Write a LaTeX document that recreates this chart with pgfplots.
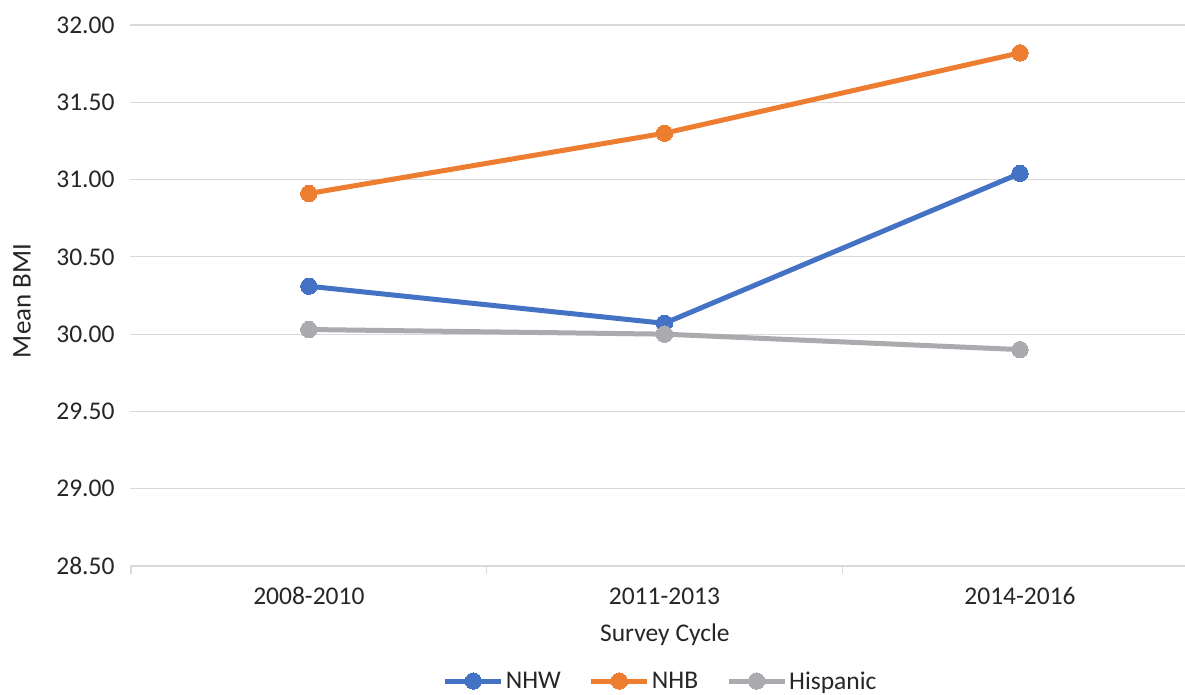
\documentclass[border=0pt]{standalone}
\usepackage{pgfplots}
\pgfplotsset{compat=1.18}
\usepackage{fontspec}
\setmainfont{Carlito}
\definecolor{cblue}{RGB}{68,114,196}
\definecolor{corange}{RGB}{237,125,49}
\definecolor{cgray}{RGB}{170,170,175}
\definecolor{gridc}{RGB}{217,217,217}
\definecolor{txt}{RGB}{38,38,38}
\begin{document}
\begin{tikzpicture}
\useasboundingbox (-130pt,-128pt) rectangle (1055pt,566pt);
\begin{axis}[
  at={(0pt,0pt)}, anchor=south west,
  scale only axis, width=1055pt, height=541pt,
  xmin=-0.503, xmax=2.464, ymin=28.5, ymax=32,
  ytick={28.5,29,29.5,30,30.5,31,31.5,32},
  xtick={0,1,2}, xticklabels={2008-2010,2011-2013,2014-2016},
  extra x ticks={-0.5,0.5,1.5},
  extra x tick labels={},
  extra x tick style={major tick length=8pt, tick align=outside, tick pos=bottom, xmajorgrids=false, major tick style={gridc, line width=1.2pt}},
  major tick length=0pt,
  ymajorgrids, grid style={gridc, line width=1.2pt},
  axis line style={draw=none},
  /pgf/number format/assume math mode=true,
  yticklabel={\pgfmathprintnumber[fixed,fixed zerofill,precision=2]{\tick}},
  tick label style={font=\fontsize{25.5}{30}\selectfont, text=txt},
  yticklabel style={xshift=-12pt},
  xticklabel style={yshift=-18pt},
  xlabel={Survey Cycle}, ylabel={Mean BMI},
  label style={font=\fontsize{25.5}{30}\selectfont, text=txt},
  xlabel style={at={(axis description cs:0.507,-0.1275)}, anchor=center},
  ylabel style={at={(axis description cs:-0.1024,0.49)}, rotate=0, anchor=center, font=\fontsize{27}{32}\selectfont},
  legend columns=3,
  legend style={at={(axis description cs:0.503,-0.2126)}, anchor=center, draw=none, font=\fontsize{25.5}{30}\selectfont, text=txt, inner sep=0pt,
    /tikz/every even column/.append style={column sep=26pt}},
  legend image code/.code={\draw[#1, mark repeat=2, mark phase=2] plot coordinates {(0pt,0pt)(28pt,0pt)(56pt,0pt)};},
  every axis plot/.append style={line width=5pt, mark=*, mark size=8.2pt, mark options={solid}},
  clip=false,
]
\addplot[cblue, mark options={fill=cblue, draw=cblue, line width=0pt}] coordinates {(0,30.31) (1,30.07) (2,31.04)};
\addplot[corange, mark options={fill=corange, draw=corange, line width=0pt}] coordinates {(0,30.91) (1,31.30) (2,31.82)};
\addplot[cgray, mark options={fill=cgray, draw=cgray, line width=0pt}] coordinates {(0,30.03) (1,30.00) (2,29.90)};
\legend{NHW,NHB,Hispanic}
\end{axis}
\end{tikzpicture}
\end{document}
